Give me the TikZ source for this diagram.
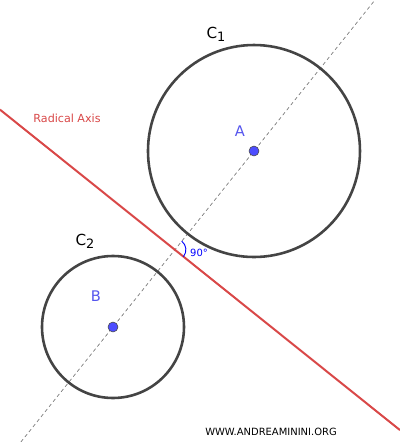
\documentclass[tikz,border=0pt]{standalone}
\usepackage{fontspec}
\setmainfont{DejaVu Sans}
\usetikzlibrary{calc}
\definecolor{circgray}{HTML}{444444}
\definecolor{axisred}{HTML}{D94848}
\definecolor{ptblue}{HTML}{4D4DFF}
\definecolor{lblblue}{HTML}{5555EE}
\tikzset{
  circ/.style={draw=circgray, line width=2.2pt},
  raxis/.style={draw=axisred, line width=1.7pt},
  centerline/.style={draw=gray!80!black, line width=0.5pt, dash pattern=on 3pt off 2.5pt},
  pt/.style={circle, fill=ptblue, draw=black!70, line width=0.5pt, inner sep=0pt, minimum size=8.5pt},
  lbl/.style={text=lblblue, font=\fontsize{12.5}{14}\selectfont},
  clbl/.style={text=black, font=\fontsize{13}{15}\selectfont},
}
\newcommand{\sublbl}[2]{#1\raisebox{-0.35ex}{\fontsize{11}{13}\selectfont #2}}
\begin{document}
\begin{tikzpicture}[scale=0.03]
\useasboundingbox (0,0) rectangle (400,442);
\fill[white] (0,0) rectangle (400,442);
\coordinate (A) at (254,291);
\coordinate (B) at (113,115);
\coordinate (P) at ($(A)!0.561!(B)$);
\coordinate (L1) at ($(B)!-0.6534!(A)$);
\coordinate (L2) at ($(B)!1.858!(A)$);
\coordinate (R1) at ($(P)+(-176*0.9938,141*0.9938)$);
\coordinate (R2) at ($(P)+(176*1.279,-141*1.279)$);
\draw[centerline] (L1) -- (L2);
\draw[raxis] (R1) -- (R2);
\draw[circ] (A) circle[radius=106];
\draw[circ] (B) circle[radius=71];
\draw[blue, line width=0.8pt] ($(P)+(-38.66:11)$) arc[start angle=-38.66, end angle=51.34, radius=11];
\node[pt] (pa) at (A) {};
\node[pt] (pb) at (B) {};
\node[lbl, anchor=center] (la) at (240,311) {A};
\node[lbl, anchor=center] (lb) at (96,146) {B};
\node[clbl] (c1) at (216,408) {\sublbl{C}{1}};
\node[clbl] (c2) at (85,201) {\sublbl{C}{2}};
\node[text=axisred, font=\fontsize{9.5}{11}\selectfont] (ra) at (67,324) {Radical Axis};
\node[text=blue, font=\fontsize{8.5}{10}\selectfont] (ang) at (199,189) {90°};
\node[text=black, font=\fontsize{8.5}{10}\selectfont] (wm) at (271,10) {WWW.ANDREAMININI.ORG};
\end{tikzpicture}
\end{document}
